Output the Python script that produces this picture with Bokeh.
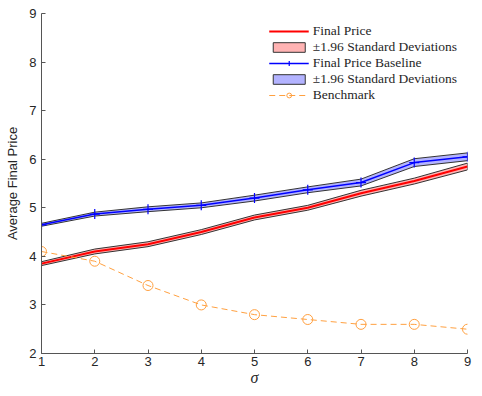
from bokeh.plotting import figure
from bokeh.models import Range1d, Legend, LegendItem, FixedTicker
from bokeh.embed import file_html
from bokeh.resources import INLINE

sigma = [1, 2, 3, 4, 5, 6, 7, 8, 9]
final_price = [3.85, 4.10, 4.25, 4.50, 4.80, 5.00, 5.30, 5.55, 5.85]
final_price_sd = [0.04, 0.05, 0.05, 0.05, 0.05, 0.05, 0.06, 0.06, 0.07]
baseline = [4.65, 4.87, 4.97, 5.05, 5.20, 5.37, 5.52, 5.93, 6.05]
baseline_sd = [0.03, 0.04, 0.05, 0.05, 0.06, 0.06, 0.07, 0.08, 0.08]
benchmark = [4.10, 3.90, 3.40, 3.00, 2.80, 2.70, 2.60, 2.60, 2.50]
y_ticks = [2, 3, 4, 5, 6, 7, 8, 9]

def band(x, y, s):
    up = [a + b for a, b in zip(y, s)]
    lo = [a - b for a, b in zip(y, s)]
    return list(x) + list(x)[::-1], up + lo[::-1]

p = figure(width=474, height=388, output_backend="svg", toolbar_location=None,
           x_range=Range1d(1, 9), y_range=Range1d(2, 9),
           min_border_left=41, min_border_top=13, min_border_right=7, min_border_bottom=30)
p.outline_line_color = None
p.xgrid.visible = False
p.ygrid.visible = False

bx, by = band(sigma, final_price, final_price_sd)
r_band = p.patch(bx, by, fill_color="#ffb3b3", line_color="#333333", line_width=1)
r_line = p.line(sigma, final_price, line_color="#ff0000", line_width=2)

gx, gy = band(sigma, baseline, baseline_sd)
b_band = p.patch(gx, gy, fill_color="#b3b3ff", line_color="#333333", line_width=1)
b_line = p.line(sigma, baseline, line_color="#0000ff", line_width=1.5)
b_mark = p.scatter(sigma, baseline, marker="cross", size=10, line_color="#0000ff", line_width=1.2)

o_line = p.line(sigma, benchmark, line_color="#ffa040", line_width=1, line_dash="6 4")
o_mark = p.scatter(sigma, benchmark, marker="circle", size=10, fill_color=None,
                   line_color="#ffa040", line_width=1)

legend = Legend(items=[
    LegendItem(label="Final Price", renderers=[r_line]),
    LegendItem(label="±1.96 Standard Deviations", renderers=[r_band]),
    LegendItem(label="Final Price Baseline", renderers=[b_line, b_mark]),
    LegendItem(label="±1.96 Standard Deviations", renderers=[b_band]),
    LegendItem(label="Benchmark", renderers=[o_line, o_mark]),
], location="top_right")
legend.border_line_color = None
legend.background_fill_alpha = 0
legend.label_text_font = "Liberation Serif"
legend.label_text_font_size = "13.5px"
legend.label_text_color = "#262626"
legend.glyph_width = 40
legend.glyph_height = 12
legend.label_height = 14
legend.label_standoff = 4
legend.spacing = -1
legend.padding = 5
legend.margin = 10
p.add_layout(legend)

for ax in (p.xaxis[0], p.yaxis[0]):
    ax.axis_line_color = "#555555"
    ax.major_tick_line_color = "#555555"
    ax.major_tick_in = 4
    ax.major_tick_out = 0
    ax.minor_tick_line_color = None
    ax.major_label_text_font = "Liberation Sans"
    ax.major_label_text_font_size = "13px"
    ax.major_label_text_color = "#262626"

p.xaxis.major_label_standoff = 3
p.yaxis.major_label_standoff = 5
p.xaxis.ticker = FixedTicker(ticks=sigma)
p.yaxis.ticker = FixedTicker(ticks=y_ticks)
p.xaxis.axis_label = "σ"
p.xaxis.axis_label_text_font = "Liberation Serif"
p.xaxis.axis_label_text_font_style = "italic"
p.xaxis.axis_label_text_font_size = "16px"
p.xaxis.axis_label_text_color = "#262626"
p.xaxis.axis_label_standoff = 0
p.yaxis.axis_label = "Average Final Price"
p.yaxis.axis_label_text_font = "Liberation Sans"
p.yaxis.axis_label_text_font_style = "normal"
p.yaxis.axis_label_text_font_size = "13px"
p.yaxis.axis_label_text_color = "#262626"
p.yaxis.axis_label_standoff = 6

open("out.html", "w").write(file_html(p, INLINE))
